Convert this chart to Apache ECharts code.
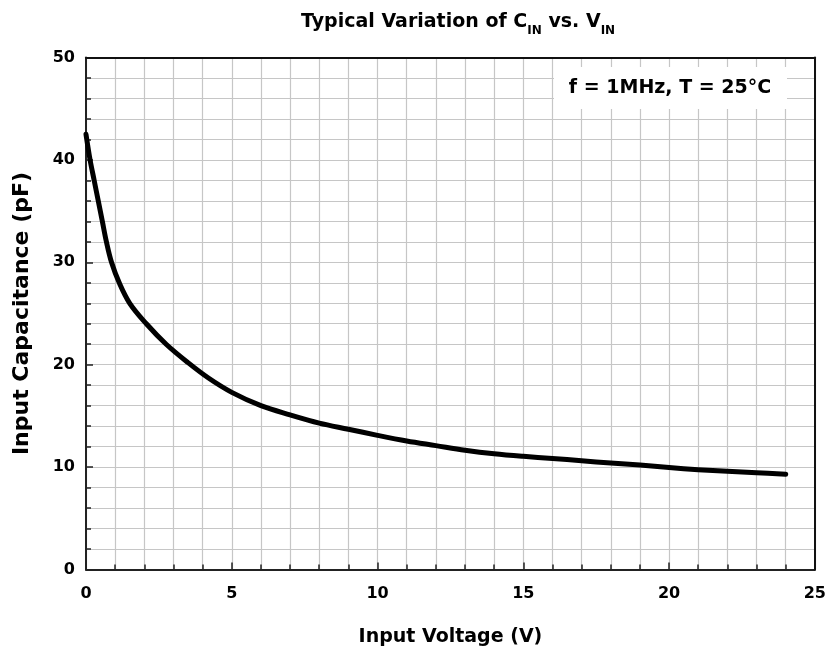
<!DOCTYPE html>
<html>
<head>
<meta charset="utf-8">
<script src="https://cdn.jsdelivr.net/npm/echarts@6/dist/echarts.min.js"></script>
<style>
  html, body { margin: 0; padding: 0; background: #ffffff; }
  #chart { width: 829px; height: 655px; }
</style>
</head>
<body>
<div id="chart"></div>
<script>
// ---- data ----
const inputVoltage = [0, 0.14, 0.28, 0.42, 0.56, 0.7, 0.875, 1.14, 1.5, 2.07, 2.75, 3.5, 4.2, 5, 6, 7, 8, 9, 10, 11, 12, 13, 14, 15, 16, 17, 18, 19, 20, 21, 22, 23, 24];
const inputCapacitance = [42.5, 40, 38, 36, 34, 32, 30, 28, 26, 24, 22, 20.2, 18.7, 17.3, 16.0, 15.1, 14.3, 13.7, 13.1, 12.55, 12.1, 11.65, 11.3, 11.05, 10.85, 10.62, 10.4, 10.2, 9.95, 9.75, 9.6, 9.45, 9.3];
const titleMain = 'Typical Variation of C';
const titleSub = 'IN';
const titleMid = ' vs. V';
const xAxisTitle = 'Input Voltage (V)';
const yAxisTitle = 'Input Capacitance (pF)';
const noteText = 'f = 1MHz, T = 25°C';

const seriesData = inputVoltage.map((v, i) => [v, inputCapacitance[i]]);
const FONT = '"DejaVu Sans", "Liberation Sans", Arial, sans-serif';
const gridColor = '#c6c6c6';
const borderAxis = (pos) => ({
  type: 'value', position: pos, min: 0, max: pos === 'top' ? 25 : 50,
  axisLine: { show: true, onZero: false, lineStyle: { color: '#111', width: 2 } },
  axisTick: { show: false }, axisLabel: { show: false }, splitLine: { show: false }, z: 20
});

const chart = echarts.init(document.getElementById('chart'), null, { renderer: 'canvas' });
chart.setOption({
  backgroundColor: '#ffffff',
  animation: false,
  title: {
    text: '{m|' + titleMain + '}{s|' + titleSub + '}{m|' + titleMid + '}{s|' + titleSub + '}',
    left: 296,
    top: 3,
    textStyle: {
      rich: {
        m: { fontFamily: FONT, fontWeight: 'bold', fontSize: 19, color: '#000', verticalAlign: 'bottom', lineHeight: 24 },
        s: { fontFamily: FONT, fontWeight: 'bold', fontSize: 12, color: '#000', verticalAlign: 'bottom', lineHeight: 24, padding: [0, 0, -5, 0] }
      }
    }
  },
  grid: {
    left: 86, right: 13, top: 57.5, bottom: 85.5
  },
  xAxis: [{
    type: 'value', min: 0, max: 25, interval: 5,
    name: xAxisTitle, nameLocation: 'middle', nameGap: 58,
    nameTextStyle: { fontFamily: FONT, fontWeight: 'bold', fontSize: 19, color: '#000' },
    axisLine: { show: true, onZero: false, lineStyle: { color: '#222', width: 2 } },
    axisTick: { show: true, inside: true, length: 7, lineStyle: { color: '#222', width: 1.5 } },
    minorTick: { show: true, splitNumber: 5, length: 5, lineStyle: { color: '#222', width: 1.5 } },
    axisLabel: { fontFamily: FONT, fontWeight: 'bold', fontSize: 16, color: '#000', margin: 16 },
    splitLine: { show: true, lineStyle: { color: gridColor, width: 1.2 } },
    minorSplitLine: { show: true, lineStyle: { color: gridColor, width: 1.2 } }
  }, borderAxis('top')],
  yAxis: [{
    type: 'value', min: 0, max: 50, interval: 10,
    name: yAxisTitle, nameLocation: 'middle', nameGap: 53,
    nameTextStyle: { fontFamily: FONT, fontWeight: 'bold', fontSize: 22, color: '#000' },
    axisLine: { show: true, onZero: false, lineStyle: { color: '#222', width: 2 } },
    axisTick: { show: true, inside: true, length: 7, lineStyle: { color: '#222', width: 1.5 } },
    minorTick: { show: true, splitNumber: 5, length: 5, lineStyle: { color: '#222', width: 1.5 } },
    axisLabel: { fontFamily: FONT, fontWeight: 'bold', fontSize: 16, color: '#000', margin: 11 },
    splitLine: { show: true, lineStyle: { color: gridColor, width: 1.2 } },
    minorSplitLine: { show: true, lineStyle: { color: gridColor, width: 1.2 } }
  }, borderAxis('right')],
  graphic: [
    {
      type: 'rect', x: 554, y: 67, z: 50,
      shape: { x: 0, y: 0, width: 233, height: 42 },
      style: { fill: '#ffffff' }
    },
    {
      type: 'text', x: 670, y: 88, z: 51,
      style: {
        text: noteText, font: 'bold 19px ' + FONT,
        fill: '#000', align: 'center', verticalAlign: 'middle'
      }
    }
  ],
  series: [{
    type: 'line',
    xAxisIndex: 0, yAxisIndex: 0,
    data: seriesData,
    smooth: 0.35,
    showSymbol: false,
    symbol: 'none',
    lineStyle: { color: '#000', width: 5, cap: 'round', join: 'round' },
    z: 10
  }]
});
</script>
</body>
</html>
